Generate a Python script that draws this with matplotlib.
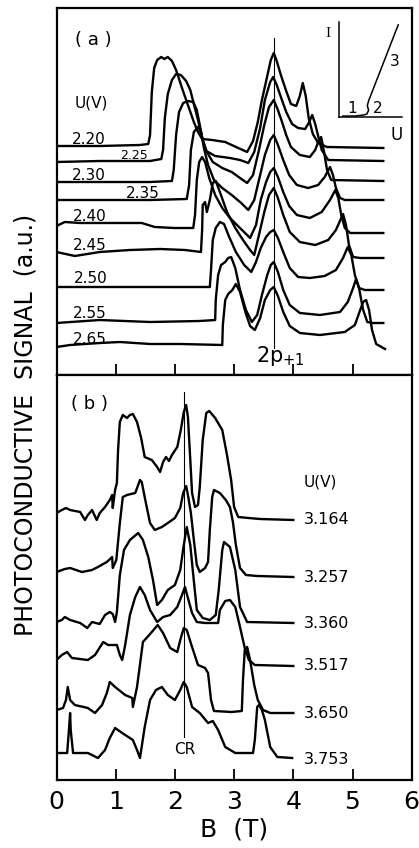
import matplotlib
matplotlib.use('Agg')
import matplotlib.pyplot as plt

plt.rcParams['font.family'] = ['DejaVu Sans']

# ---- panel (a): U = 2.20 ... 2.65 V, B in T, signal in a.u.
A220_B = [0.0, 0.73, 1.41, 1.55, 1.58, 1.61, 1.65, 1.70, 1.77, 1.82, 1.88, 1.95, 2.02, 2.12, 2.22, 2.32, 2.39, 2.46, 2.63, 2.85, 3.07, 3.22, 3.32, 3.40, 3.47, 3.56, 3.62, 3.67, 3.72, 3.79, 3.88, 3.96, 4.05, 4.11, 4.16, 4.21, 4.26, 4.33, 4.42, 4.57, 5.52]
A220_S = [229, 229, 230, 231, 240, 283, 307, 315, 318, 316, 318, 314, 305, 287, 270, 253, 243, 236, 235, 233, 227, 223, 234, 253, 275, 299, 315, 322, 314, 300, 284, 271, 269, 279, 292, 279, 257, 241, 232, 228, 227]
A225_B = [0.0, 0.73, 1.58, 1.77, 1.80, 1.83, 1.88, 1.95, 2.02, 2.10, 2.19, 2.26, 2.32, 2.39, 2.46, 2.53, 2.68, 2.93, 3.10, 3.24, 3.34, 3.44, 3.52, 3.61, 3.66, 3.72, 3.79, 3.88, 3.98, 4.08, 4.20, 4.26, 4.32, 4.37, 4.42, 4.48, 4.59, 5.52]
A225_S = [213, 214, 214, 216, 225, 257, 281, 295, 301, 300, 294, 285, 271, 255, 237, 224, 219, 217, 215, 212, 223, 247, 275, 293, 298, 290, 278, 263, 251, 247, 246, 252, 260, 251, 239, 225, 215, 214]
A230_B = [0.0, 0.73, 1.58, 1.95, 1.98, 2.02, 2.07, 2.14, 2.22, 2.31, 2.37, 2.42, 2.47, 2.54, 2.64, 2.80, 2.96, 3.10, 3.22, 3.32, 3.42, 3.51, 3.59, 3.67, 3.74, 3.81, 3.88, 3.96, 4.11, 4.28, 4.37, 4.42, 4.47, 4.52, 4.57, 4.64, 5.52]
A230_S = [193, 193, 193, 194, 205, 240, 263, 272, 274, 273, 265, 250, 235, 223, 213, 207, 203, 197, 192, 200, 225, 250, 268, 275, 265, 253, 240, 228, 220, 218, 225, 233, 238, 223, 205, 195, 194]
A235_B = [0.0, 1.58, 2.20, 2.24, 2.27, 2.32, 2.39, 2.44, 2.49, 2.56, 2.66, 2.80, 2.96, 3.12, 3.24, 3.34, 3.44, 3.52, 3.61, 3.67, 3.74, 3.83, 3.93, 4.06, 4.25, 4.42, 4.53, 4.62, 4.67, 4.72, 4.79, 4.87, 5.52]
A235_S = [175, 175, 176, 190, 225, 243, 248, 243, 227, 210, 195, 187, 180, 172, 165, 175, 200, 220, 235, 240, 230, 215, 200, 190, 187, 190, 198, 208, 200, 187, 177, 175, 175]
A240_B = [0.0, 0.14, 0.40, 0.73, 1.24, 1.44, 1.66, 2.00, 2.31, 2.34, 2.37, 2.41, 2.46, 2.51, 2.58, 2.68, 2.80, 2.93, 3.10, 3.27, 3.37, 3.45, 3.54, 3.61, 3.67, 3.74, 3.83, 3.93, 4.06, 4.28, 4.48, 4.62, 4.71, 4.76, 4.81, 4.87, 4.96, 5.52]
A240_S = [149, 153, 152, 152, 152, 152, 148, 147, 147, 160, 195, 213, 218, 213, 197, 180, 167, 157, 147, 137, 150, 175, 193, 203, 207, 198, 183, 169, 160, 157, 163, 175, 185, 177, 160, 147, 142, 142]
A245_B = [0.0, 0.31, 0.73, 1.24, 1.75, 2.17, 2.44, 2.46, 2.47, 2.51, 2.54, 2.59, 2.64, 2.69, 2.76, 2.88, 3.02, 3.15, 3.27, 3.34, 3.42, 3.51, 3.59, 3.67, 3.74, 3.83, 3.94, 4.11, 4.37, 4.59, 4.72, 4.81, 4.84, 4.89, 4.94, 5.01, 5.13, 5.52]
A245_S = [123, 119, 123, 125, 126, 125, 123, 145, 170, 173, 163, 175, 192, 194, 183, 163, 147, 135, 125, 120, 140, 163, 180, 187, 177, 160, 143, 133, 130, 135, 145, 157, 161, 150, 130, 118, 117, 117]
A250_B = [0.0, 2.59, 2.61, 2.64, 2.69, 2.76, 2.83, 2.91, 3.03, 3.17, 3.29, 3.37, 3.45, 3.54, 3.61, 3.67, 3.74, 3.83, 3.94, 4.08, 4.28, 4.53, 4.72, 4.84, 4.92, 4.98, 5.04, 5.11, 5.21, 5.52]
A250_S = [88, 88, 105, 135, 147, 153, 151, 139, 123, 110, 103, 113, 127, 138, 143, 145, 137, 123, 107, 98, 97, 99, 105, 117, 128, 120, 100, 87, 85, 85]
A255_B = [0.0, 0.73, 1.58, 2.42, 2.68, 2.69, 2.73, 2.78, 2.85, 2.90, 2.95, 3.02, 3.10, 3.20, 3.30, 3.39, 3.47, 3.56, 3.62, 3.67, 3.74, 3.83, 3.94, 4.11, 4.45, 4.79, 4.92, 5.01, 5.06, 5.11, 5.18, 5.25, 5.33, 5.52]
A255_S = [52, 55, 53, 54, 55, 75, 100, 110, 113, 117, 118, 107, 85, 65, 53, 60, 80, 100, 110, 113, 103, 85, 70, 62, 60, 63, 73, 87, 96, 87, 65, 53, 52, 52]
A265_B = [0.0, 0.23, 0.73, 1.07, 1.58, 2.09, 2.80, 2.81, 2.85, 2.90, 2.97, 3.03, 3.10, 3.19, 3.27, 3.35, 3.44, 3.52, 3.61, 3.67, 3.74, 3.83, 3.94, 4.11, 4.45, 4.87, 5.04, 5.13, 5.18, 5.23, 5.28, 5.33, 5.40, 5.55]
A265_S = [28, 30, 32, 33, 31, 31, 30, 50, 75, 81, 85, 91, 83, 63, 49, 45, 57, 75, 85, 88, 79, 63, 49, 42, 40, 43, 50, 65, 73, 75, 65, 45, 31, 26]

# ---- panel (b): U = 3.164 ... 3.753 V
B3164_B = [0.0, 0.09, 0.16, 0.23, 0.40, 0.48, 0.53, 0.60, 0.68, 0.73, 0.82, 0.90, 0.94, 0.95, 0.99, 1.02, 1.04, 1.07, 1.12, 1.19, 1.24, 1.29, 1.36, 1.43, 1.49, 1.61, 1.70, 1.75, 1.80, 1.85, 1.90, 1.95, 2.04, 2.10, 2.15, 2.19, 2.22, 2.26, 2.29, 2.34, 2.39, 2.42, 2.47, 2.53, 2.58, 2.68, 2.80, 2.88, 2.95, 3.00, 3.07, 3.24, 3.44, 4.0]
B3164_S = [267, 270, 272, 270, 268, 260, 265, 270, 260, 267, 273, 280, 285, 272, 290, 297, 330, 358, 365, 362, 365, 366, 358, 342, 323, 320, 313, 308, 318, 323, 319, 325, 333, 350, 368, 375, 363, 320, 287, 273, 275, 293, 340, 367, 369, 362, 350, 325, 300, 273, 263, 262, 261, 260]
B3257_B = [0.0, 0.14, 0.23, 0.43, 0.60, 0.70, 0.85, 0.94, 0.95, 1.01, 1.07, 1.12, 1.19, 1.33, 1.41, 1.44, 1.51, 1.58, 1.66, 1.78, 1.88, 2.00, 2.09, 2.14, 2.19, 2.22, 2.27, 2.32, 2.37, 2.42, 2.51, 2.56, 2.59, 2.63, 2.66, 2.76, 2.86, 2.93, 2.98, 3.03, 3.10, 3.20, 3.39, 4.0]
B3257_S = [208, 211, 212, 208, 210, 213, 218, 223, 212, 220, 257, 283, 285, 287, 300, 298, 277, 257, 250, 253, 257, 262, 272, 287, 294, 285, 267, 240, 215, 208, 212, 218, 250, 283, 290, 287, 280, 273, 258, 235, 212, 205, 204, 203]
B3360_B = [0.0, 0.09, 0.14, 0.23, 0.40, 0.52, 0.60, 0.73, 0.82, 0.90, 0.95, 0.99, 1.02, 1.07, 1.14, 1.24, 1.38, 1.46, 1.55, 1.63, 1.70, 1.78, 1.88, 2.00, 2.09, 2.15, 2.20, 2.26, 2.31, 2.37, 2.47, 2.59, 2.69, 2.74, 2.80, 2.83, 2.93, 3.02, 3.10, 3.22, 4.0]
B3360_S = [158, 160, 163, 160, 157, 152, 158, 156, 165, 168, 166, 158, 168, 205, 230, 240, 247, 240, 223, 200, 175, 180, 190, 195, 210, 235, 253, 235, 205, 170, 162, 160, 165, 190, 230, 238, 233, 210, 173, 158, 157]
B3517_B = [0.0, 0.09, 0.18, 0.26, 0.53, 0.65, 0.79, 0.87, 1.02, 1.07, 1.11, 1.16, 1.24, 1.33, 1.41, 1.49, 1.58, 1.70, 1.80, 1.92, 2.04, 2.12, 2.17, 2.22, 2.29, 2.37, 2.51, 2.73, 2.76, 2.85, 2.93, 3.02, 3.10, 3.18, 3.25, 3.35, 4.0]
B3517_S = [120, 125, 128, 122, 120, 125, 138, 135, 135, 125, 120, 135, 165, 183, 193, 185, 170, 158, 163, 165, 173, 185, 193, 182, 167, 158, 157, 157, 170, 179, 180, 173, 153, 132, 120, 115, 114]
B3650_B = [0.0, 0.11, 0.16, 0.19, 0.23, 0.31, 0.53, 0.65, 0.77, 0.85, 0.90, 0.99, 1.16, 1.28, 1.29, 1.36, 1.46, 1.61, 1.71, 1.80, 1.92, 2.04, 2.10, 2.15, 2.20, 2.29, 2.39, 2.51, 2.56, 2.61, 2.66, 2.96, 3.13, 3.15, 3.18, 3.22, 3.27, 3.34, 3.40, 3.49, 3.61, 4.0]
B3650_S = [70, 72, 80, 93, 80, 75, 72, 67, 75, 87, 98, 93, 85, 82, 73, 93, 138, 148, 155, 147, 132, 128, 142, 152, 150, 133, 115, 112, 107, 80, 69, 68, 69, 100, 130, 133, 120, 95, 80, 70, 67, 67]
B3753_B = [0.0, 0.18, 0.21, 0.23, 0.24, 0.28, 0.53, 0.70, 0.82, 0.90, 0.99, 1.11, 1.29, 1.36, 1.41, 1.49, 1.58, 1.68, 1.78, 1.88, 2.00, 2.09, 2.15, 2.20, 2.29, 2.42, 2.56, 2.64, 2.73, 2.85, 3.02, 3.32, 3.35, 3.39, 3.42, 3.47, 3.52, 3.61, 3.73, 3.98]
B3753_S = [27, 27, 50, 67, 50, 27, 27, 22, 30, 42, 52, 47, 40, 30, 22, 53, 80, 90, 93, 85, 80, 90, 98, 93, 73, 67, 57, 59, 50, 33, 27, 27, 40, 73, 75, 70, 60, 33, 23, 22]

labels_a = ['2.20', '2.25', '2.30', '2.35', '2.40', '2.45', '2.50', '2.55', '2.65']
labels_b = ['3.164', '3.257', '3.360', '3.517', '3.650', '3.753']
B_2p = 3.68   # 2p+1 line
B_CR = 2.15   # cyclotron resonance line

# inset I(U) sketch
inset_U = [0.06, 0.25, 0.38, 0.44, 0.47, 0.45, 0.47, 0.94]
inset_I = [0.01, 0.01, 0.02, 0.03, 0.07, 0.12, 0.17, 0.97]

curves_a = [(A220_B, A220_S), (A225_B, A225_S), (A230_B, A230_S), (A235_B, A235_S),
            (A240_B, A240_S), (A245_B, A245_S), (A250_B, A250_S), (A255_B, A255_S),
            (A265_B, A265_S)]
curves_b = [(B3164_B, B3164_S), (B3257_B, B3257_S), (B3360_B, B3360_S),
            (B3517_B, B3517_S), (B3650_B, B3650_S), (B3753_B, B3753_S)]

fig = plt.figure(figsize=(4.19, 8.48), dpi=100)
L, W = 56.5 / 419, 355.2 / 419
axa = fig.add_axes([L, 1 - 375 / 848, W, 367 / 848])
axb = fig.add_axes([L, 1 - 780 / 848, W, 405 / 848])

lw = 1.7
for ax in (axa, axb):
    ax.set_xlim(0, 6)
    ax.set_yticks([])
    for s in ax.spines.values():
        s.set_linewidth(1.6)
axa.set_ylim(0, 367)
axb.set_ylim(0, 405)

for b, s in curves_a:
    axa.plot(b, s, color='black', lw=lw, solid_joinstyle='round')
for b, s in curves_b:
    axb.plot(b, s, color='black', lw=lw, solid_joinstyle='round')

# panel a decorations
axa.set_xticks([1, 2, 3, 4, 5])
axa.tick_params(axis='x', direction='in', length=8, width=1.3, labelbottom=False)
axa.plot([B_2p, B_2p], [27, 337], color='black', lw=0.8)
axa.text(0.63, 335, '( a )', fontsize=13, ha='center', va='center')
axa.text(0.58, 272, 'U(V)', fontsize=11, ha='center', va='center')
pos_a = [(0.55, 236), (1.31, 220), (0.55, 200), (1.46, 182), (0.57, 159),
         (0.57, 130), (0.58, 97), (0.57, 62), (0.57, 36)]
for lab, (x, y) in zip(labels_a, pos_a):
    fs = 9 if lab == '2.25' else 11
    axa.text(x, y, lab, fontsize=fs, ha='center', va='center')
axa.text(3.78, 19, r'2p$_{+1}$', fontsize=15, ha='center', va='center')

# inset
axi = fig.add_axes([339 / 419, 1 - 117 / 848, 63 / 419, 95 / 848])
axi.set_xlim(0, 1)
axi.set_ylim(0, 1)
axi.set_xticks([])
axi.set_yticks([])
axi.patch.set_alpha(0)
axi.spines['top'].set_visible(False)
axi.spines['right'].set_visible(False)
axi.spines['left'].set_linewidth(1.1)
axi.spines['bottom'].set_linewidth(1.1)
axi.plot(inset_U, inset_I, color='black', lw=1.1)
axi.text(-0.17, 0.88, 'I', fontsize=11, family='Liberation Serif', ha='center', va='center')
axi.text(0.92, -0.19, 'U', fontsize=12, ha='center', va='center')
axi.text(0.21, 0.09, '1', fontsize=11, ha='center', va='center')
axi.text(0.62, 0.09, '2', fontsize=11, ha='center', va='center')
axi.text(0.89, 0.58, '3', fontsize=11, ha='center', va='center')

# panel b decorations
axb.set_xticks([0, 1, 2, 3, 4, 5, 6])
axb.tick_params(axis='x', direction='in', length=8, width=1.3, labelsize=18, pad=7)
axb.plot([B_CR, B_CR], [43, 388], color='black', lw=0.8)
axb.text(0.55, 376, '( b )', fontsize=13, ha='center', va='center')
axb.text(4.17, 298, 'U(V)', fontsize=11, ha='left', va='center')
pos_b = [260, 203, 157, 114, 67, 20]
for lab, y in zip(labels_b, pos_b):
    axb.text(4.17, y, lab, fontsize=11.5, ha='left', va='center')
axb.text(2.17, 31, 'CR', fontsize=11, ha='center', va='center')
axb.set_xlabel('B  (T)', fontsize=18, labelpad=3)

fig.text(26 / 419, 1 - 425 / 848, 'PHOTOCONDUCTIVE  SIGNAL  (a.u.)',
         rotation=90, fontsize=17, ha='center', va='center')

fig.savefig('out.png', dpi=100)
